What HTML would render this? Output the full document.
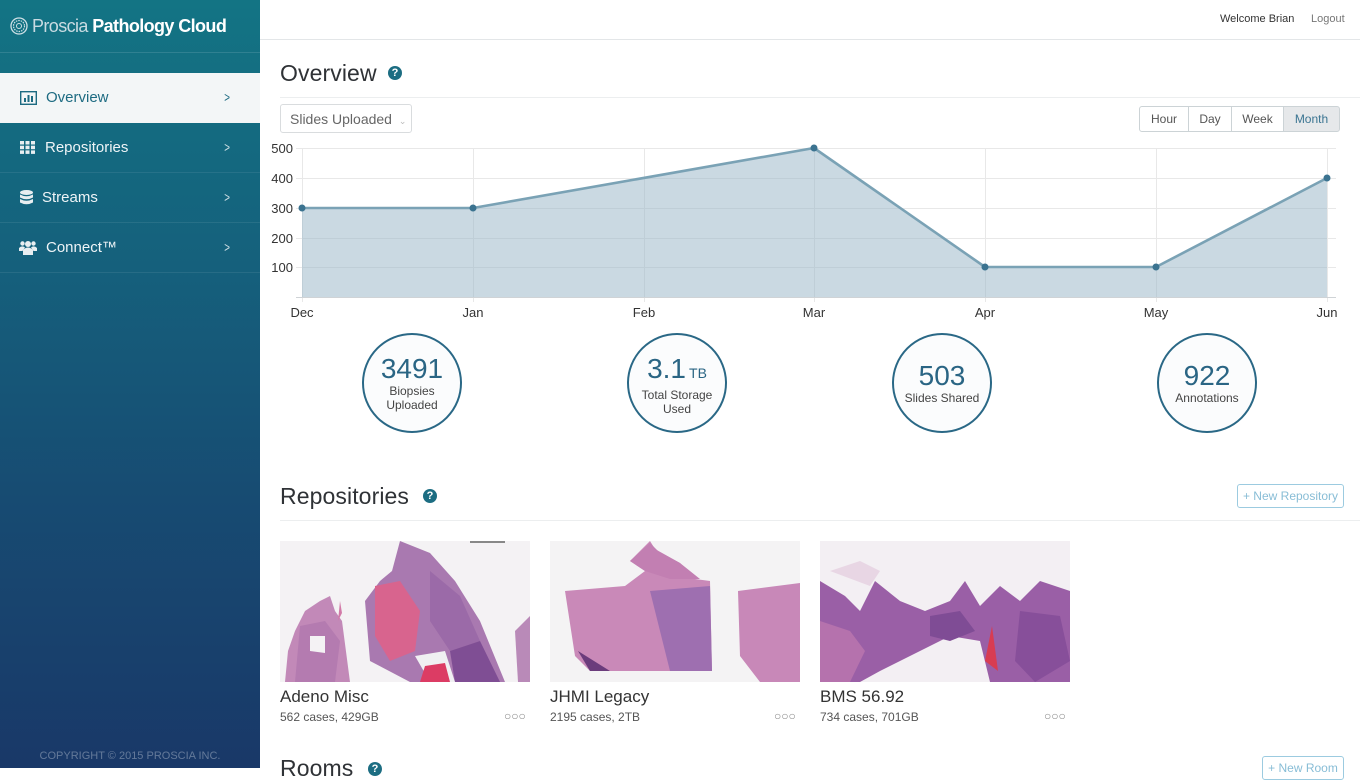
<!DOCTYPE html>
<html><head><meta charset="utf-8">
<style>
*{margin:0;padding:0;box-sizing:border-box}
html,body{width:1360px;height:768px;overflow:hidden;background:#fff;font-family:"Liberation Sans",sans-serif;color:#333}
.abs{position:absolute}
#side{position:absolute;left:0;top:0;width:260px;height:768px;background:linear-gradient(180deg,#137484 0%,#15607c 35%,#174b72 65%,#193868 100%)}
.nav{position:absolute;left:0;width:260px;height:50px;border-bottom:1px solid rgba(255,255,255,0.08);color:#eef4f7;font-size:15px}
.nav .t{position:absolute;top:16px}
.nav .ch{position:absolute;left:223px;top:16px;font-size:14px;color:rgba(255,255,255,0.8);transform:scaleX(0.7)}
.help{position:absolute;width:14px;height:14px;border-radius:50%;background:#1c6d82;color:#fff;font-size:11px;font-weight:bold;text-align:center;line-height:14px}
.h1{position:absolute;font-size:23px;color:#2f3236;font-weight:normal;letter-spacing:0.1px}
.circ{position:absolute;width:100px;height:100px;border:2px solid #2a6886;border-radius:50%;text-align:center;background:#fbfcfd}
.circ .n{font-size:28px;color:#2a6584;line-height:30px}
.circ .l{font-size:12px;color:#444;line-height:14px}
.btn{position:absolute;top:106px;height:26px;border:1px solid #ccd3d6;font-size:12px;color:#555;text-align:center;line-height:24px;background:#fff}
.cap{position:absolute;font-size:17px;color:#333}
.sub{position:absolute;font-size:12px;color:#555}
.dots{position:absolute;font-size:12px;color:#888;letter-spacing:0px}
</style></head><body>

<div id="side">
  <div class="abs" style="left:0;top:52px;width:260px;height:1px;background:rgba(255,255,255,0.12)"></div>
  <svg class="abs" style="left:10px;top:17px" width="18" height="18" viewBox="0 0 18 18">
    <circle cx="9" cy="9" r="8" fill="none" stroke="#cfe0e6" stroke-width="1.3"/>
    <circle cx="9" cy="9" r="5.5" fill="none" stroke="#cfe0e6" stroke-width="1.2" stroke-dasharray="1.5 1"/>
    <circle cx="9" cy="9" r="2.5" fill="none" stroke="#cfe0e6" stroke-width="1"/>
  </svg>
  <div class="abs" style="left:32px;top:16px;font-size:18px;color:#c9dbe2;letter-spacing:-0.6px;white-space:nowrap">Proscia <span style="color:#fff;font-weight:bold">Pathology Cloud</span></div>

  <div class="nav" style="top:73px;background:#f3f6f7;color:#1d6b82;border-bottom:none">
    <svg class="abs" style="left:20px;top:18px" width="17" height="14" viewBox="0 0 17 14"><rect x="0.7" y="0.7" width="15.6" height="12.6" fill="none" stroke="#1d6b82" stroke-width="1.4"/><rect x="4" y="7" width="2" height="4" fill="#1d6b82"/><rect x="7.5" y="4" width="2" height="7" fill="#1d6b82"/><rect x="11" y="5" width="2" height="6" fill="#1d6b82"/></svg>
    <span class="t" style="left:46px">Overview</span><span class="ch" style="color:#1d6b82">&gt;</span>
  </div>
  <div class="nav" style="top:123px">
    <svg class="abs" style="left:20px;top:18px" width="15" height="13" viewBox="0 0 15 13"><g fill="#e8eef1"><rect x="0" y="0" width="4" height="3.5"/><rect x="5.5" y="0" width="4" height="3.5"/><rect x="11" y="0" width="4" height="3.5"/><rect x="0" y="4.7" width="4" height="3.5"/><rect x="5.5" y="4.7" width="4" height="3.5"/><rect x="11" y="4.7" width="4" height="3.5"/><rect x="0" y="9.4" width="4" height="3.5"/><rect x="5.5" y="9.4" width="4" height="3.5"/><rect x="11" y="9.4" width="4" height="3.5"/></g></svg>
    <span class="t" style="left:45px">Repositories</span><span class="ch">&gt;</span>
  </div>
  <div class="nav" style="top:173px">
    <svg class="abs" style="left:20px;top:17px" width="13" height="16" viewBox="0 0 13 16"><g fill="#e8eef1"><ellipse cx="6.5" cy="2.5" rx="6.5" ry="2.5"/><path d="M0 4.5 Q6.5 8 13 4.5 V7.5 Q6.5 11 0 7.5Z"/><path d="M0 9 Q6.5 12.5 13 9 V12.5 Q6.5 16 0 12.5Z"/></g></svg>
    <span class="t" style="left:42px">Streams</span><span class="ch">&gt;</span>
  </div>
  <div class="nav" style="top:223px">
    <svg class="abs" style="left:19px;top:17px" width="18" height="15" viewBox="0 0 18 15"><g fill="#e8eef1"><circle cx="9" cy="4" r="3"/><circle cx="3.5" cy="3.5" r="2.2"/><circle cx="14.5" cy="3.5" r="2.2"/><path d="M4 15 V10 Q9 5 14 10 V15Z"/><path d="M0 11 V8 Q3 5 6 7.5 L3.5 11Z"/><path d="M18 11 V8 Q15 5 12 7.5 L14.5 11Z"/></g></svg>
    <span class="t" style="left:46px">Connect™</span><span class="ch">&gt;</span>
  </div>
  <div class="abs" style="left:0;top:750px;width:260px;text-align:center;font-size:11px;color:rgba(255,255,255,0.32)">COPYRIGHT © 2015 PROSCIA INC.</div>
</div>

<!-- top bar -->
<div class="abs" style="left:260px;top:39px;width:1100px;height:1px;background:#e3e6e8"></div>
<div class="abs" style="left:1220px;top:13px;font-size:11px;color:#333">Welcome Brian</div>
<div class="abs" style="left:1311px;top:13px;font-size:11px;color:#777">Logout</div>

<!-- Overview -->
<div class="h1" style="left:280px;top:60px">Overview</div>
<div class="help" style="left:388px;top:66px">?</div>
<div class="abs" style="left:280px;top:97px;width:1080px;height:1px;background:#eceeef"></div>

<div class="abs" style="left:280px;top:104px;width:132px;height:29px;border:1px solid #d9dcde;border-radius:3px;font-size:14px;color:#666;padding:6px 0 0 9px">Slides Uploaded <span style="font-size:9px;color:#bbb;margin-left:3px">&#8964;</span></div>

<div class="btn" style="left:1139px;width:50px;border-radius:3px 0 0 3px">Hour</div>
<div class="btn" style="left:1188px;width:44px">Day</div>
<div class="btn" style="left:1231px;width:53px">Week</div>
<div class="btn" style="left:1283px;width:57px;background:#e6e8ea;color:#3b7592;border-radius:0 3px 3px 0">Month</div>

<svg class="abs" style="left:0;top:0" width="1360" height="330" viewBox="0 0 1360 330">
  <g stroke="#e8e8e8" stroke-width="1">
    <line x1="296" y1="148.5" x2="1336" y2="148.5"/>
    <line x1="296" y1="178.5" x2="1336" y2="178.5"/>
    <line x1="296" y1="208.5" x2="1336" y2="208.5"/>
    <line x1="296" y1="238.5" x2="1336" y2="238.5"/>
    <line x1="296" y1="267.5" x2="1336" y2="267.5"/>
    <line x1="302.5" y1="148" x2="302.5" y2="302"/>
    <line x1="473.5" y1="148" x2="473.5" y2="302"/>
    <line x1="644.5" y1="148" x2="644.5" y2="302"/>
    <line x1="814.5" y1="148" x2="814.5" y2="302"/>
    <line x1="985.5" y1="148" x2="985.5" y2="302"/>
    <line x1="1156.5" y1="148" x2="1156.5" y2="302"/>
    <line x1="1327.5" y1="148" x2="1327.5" y2="302"/>
  </g>
  <polygon points="302,208 473,208 814,148 985,267 1156,267 1327,178 1327,297 302,297" fill="#9ab6c7" fill-opacity="0.52"/>
  <line x1="296" y1="297.5" x2="1336" y2="297.5" stroke="#cfd3d6" stroke-width="1"/>
  <polyline points="302,208 473,208 814,148 985,267 1156,267 1327,178" fill="none" stroke="#7aa2b5" stroke-width="2.6" stroke-linejoin="round"/>
  <g fill="#3b7390">
    <circle cx="302" cy="208" r="3.5"/><circle cx="473" cy="208" r="3.5"/><circle cx="814" cy="148" r="3.5"/>
    <circle cx="985" cy="267" r="3.5"/><circle cx="1156" cy="267" r="3.5"/><circle cx="1327" cy="178" r="3.5"/>
  </g>
  <g font-family="Liberation Sans, sans-serif" font-size="13" fill="#333" text-anchor="end">
    <text x="293" y="153">500</text><text x="293" y="183">400</text><text x="293" y="213">300</text><text x="293" y="243">200</text><text x="293" y="272">100</text>
  </g>
  <g font-family="Liberation Sans, sans-serif" font-size="13" fill="#333" text-anchor="middle">
    <text x="302" y="317">Dec</text><text x="473" y="317">Jan</text><text x="644" y="317">Feb</text><text x="814" y="317">Mar</text>
    <text x="985" y="317">Apr</text><text x="1156" y="317">May</text><text x="1327" y="317">Jun</text>
  </g>
</svg>

<div class="circ" style="left:362px;top:333px"><div class="n" style="margin-top:19px">3491</div><div class="l">Biopsies<br>Uploaded</div></div>
<div class="circ" style="left:627px;top:333px"><div class="n" style="margin-top:19px">3.1<span style="font-size:14px;margin-left:3px">TB</span></div><div class="l">Total Storage<br>Used</div></div>
<div class="circ" style="left:892px;top:333px"><div class="n" style="margin-top:26px">503</div><div class="l">Slides Shared</div></div>
<div class="circ" style="left:1157px;top:333px"><div class="n" style="margin-top:26px">922</div><div class="l">Annotations</div></div>

<!-- Repositories -->
<div class="h1" style="left:280px;top:483px">Repositories</div>
<div class="help" style="left:423px;top:489px">?</div>
<div class="abs" style="left:1237px;top:484px;width:107px;height:24px;border:1px solid #9ccbe0;border-radius:3px;font-size:12px;color:#88bdd6;text-align:center;line-height:22px">+ New Repository</div>
<div class="abs" style="left:280px;top:520px;width:1080px;height:1px;background:#eceeef"></div>

<svg class="abs" style="left:280px;top:541px" width="250" height="141" viewBox="0 0 250 141">
  <rect width="250" height="141" fill="#f4f2f4"/>
  <rect x="190" y="0" width="35" height="2" fill="#888"/>
  <polygon points="40,60 50,55 55,70 62,80 70,141 5,141 8,110 15,90 25,70" fill="#c289b8"/>
  <polygon points="20,85 45,80 60,100 55,141 15,141" fill="#b47bb0"/>
  <polygon points="60,60 62,72 58,80" fill="#d27aa8"/>
  <polygon points="120,0 150,12 175,40 200,80 225,141 130,141 90,120 85,60 100,40 112,30" fill="#a979b0"/>
  <polygon points="95,45 120,40 140,70 135,110 110,120 95,95" fill="#d8648e"/>
  <polygon points="150,30 180,55 200,100 170,110 150,80" fill="#9b6aa8"/>
  <polygon points="170,110 200,100 220,141 175,141" fill="#7f4e94"/>
  <polygon points="135,115 165,110 175,141 150,141" fill="#f0f0f2"/>
  <polygon points="145,125 165,122 170,141 140,141" fill="#dc3c64"/>
  <polygon points="235,90 250,75 250,141 238,141" fill="#b98ab8"/>
  <polygon points="30,95 45,95 45,112 30,110" fill="#f4f2f4"/>
</svg>
<svg class="abs" style="left:550px;top:541px" width="250" height="141" viewBox="0 0 250 141">
  <rect width="250" height="141" fill="#f4f3f4"/>
  <polygon points="80,20 100,0 105,8 130,22 145,38 160,40 162,130 40,130 25,115 15,50 75,45 95,30" fill="#c989b8"/>
  <polygon points="100,50 160,45 162,130 120,130" fill="#9e6fb0"/>
  <polygon points="80,20 100,2 108,10 130,22 150,38 120,38 95,30" fill="#c27fb2"/>
  <polygon points="188,50 250,42 250,141 210,141 190,115" fill="#c888b8"/>
  <polygon points="28,110 40,130 60,130" fill="#6b3c7c"/>
</svg>
<svg class="abs" style="left:820px;top:541px" width="250" height="141" viewBox="0 0 250 141">
  <rect width="250" height="141" fill="#f3eff3"/>
  <polygon points="0,40 25,55 40,70 55,40 80,60 105,70 130,60 145,40 160,65 180,45 200,60 220,40 250,50 250,141 170,141 160,100 130,95 100,110 60,130 40,141 0,141" fill="#9a5fa6"/>
  <polygon points="0,80 30,90 45,110 30,141 0,141" fill="#b572ad"/>
  <polygon points="110,75 140,70 155,90 130,100 110,95" fill="#7f4c95"/>
  <polygon points="200,70 240,75 250,120 215,141 195,120" fill="#874f9a"/>
  <polygon points="165,120 172,85 178,130" fill="#d83c52"/>
  <polygon points="10,30 40,20 60,30 50,45" fill="#e8d6e4"/>
</svg>

<div class="cap" style="left:280px;top:687px">Adeno Misc</div>
<div class="sub" style="left:280px;top:710px">562 cases, 429GB</div>
<div class="dots" style="left:504px;top:709px">○○○</div>
<div class="cap" style="left:550px;top:687px">JHMI Legacy</div>
<div class="sub" style="left:550px;top:710px">2195 cases, 2TB</div>
<div class="dots" style="left:774px;top:709px">○○○</div>
<div class="cap" style="left:820px;top:687px">BMS 56.92</div>
<div class="sub" style="left:820px;top:710px">734 cases, 701GB</div>
<div class="dots" style="left:1044px;top:709px">○○○</div>

<!-- Rooms -->
<div class="h1" style="left:280px;top:755px">Rooms</div>
<div class="help" style="left:368px;top:762px">?</div>
<div class="abs" style="left:1262px;top:756px;width:82px;height:24px;border:1px solid #9ccbe0;border-radius:3px;font-size:12px;color:#88bdd6;text-align:center;line-height:22px">+ New Room</div>
</body></html>
